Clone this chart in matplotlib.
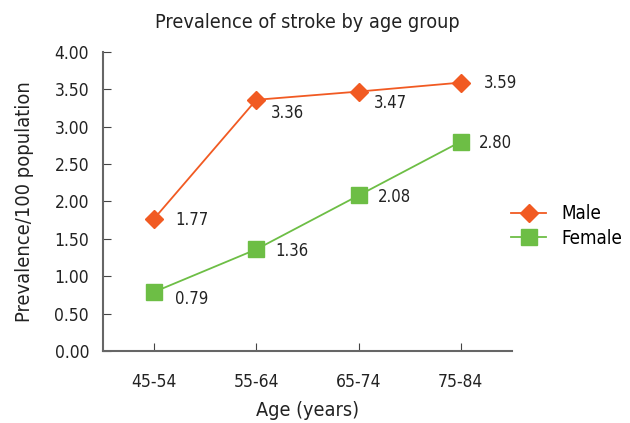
import matplotlib.pyplot as plt

age_groups = ["45-54", "55-64", "65-74", "75-84"]
male = [1.77, 3.36, 3.47, 3.59]
female = [0.79, 1.36, 2.08, 2.80]

# label offsets in pixels (dx right, dy down) as seen in the reference
male_offsets = [(21, 1), (14, 13), (15, 11), (23, 0)]
female_offsets = [(21, 7), (19, 2), (19, 2), (18, 1)]

plt.rcParams['font.family'] = ['DejaVu Sans']
plt.rcParams['font.stretch'] = 'condensed'

fig = plt.figure(figsize=(6.3, 4.23), dpi=100)
ax = fig.add_axes([0.1635, 0.1702, 0.649, 0.707])

x = range(len(age_groups))
ax.plot(x, male, color='#F15A22', lw=1.3, marker='D', ms=9.5, label='Male')
ax.plot(x, female, color='#6DBE45', lw=1.3, marker='s', ms=11.5, label='Female')

px = 0.72  # points per pixel at dpi 100
for vals, offs in [(male, male_offsets), (female, female_offsets)]:
    for i, v in enumerate(vals):
        dx, dy = offs[i]
        ax.annotate(f"{v:.2f}", (i, v), xytext=(dx * px, -dy * px), textcoords='offset points',
                    fontsize=12, va='center', ha='left', color='#222222')

ax.set_xlim(-0.5, 3.5)
ax.set_ylim(0, 4)
ax.set_xticks(list(x))
ax.set_xticklabels(age_groups)
ax.set_yticks([i * 0.5 for i in range(9)])
ax.set_yticklabels([f"{i * 0.5:.2f}" for i in range(9)])
ax.tick_params(direction='in', labelsize=12.5, length=6, color='#444444', labelcolor='#222222')
ax.tick_params(axis='x', pad=16)
ax.tick_params(axis='y', pad=10)

for s in ['top', 'right']:
    ax.spines[s].set_visible(False)
for s in ['left', 'bottom']:
    ax.spines[s].set_color('#666666')
    ax.spines[s].set_linewidth(1.5)

ax.set_xlabel("Age (years)", fontsize=14.2, color='#222222', labelpad=7)
ax.set_ylabel("Prevalence/100 population", fontsize=14.4, color='#222222', labelpad=15)
ax.set_title("Prevalence of stroke by age group", fontsize=14.2, color='#222222', pad=17)

ax.legend(loc='center left', bbox_to_anchor=(0.784, 0.466), bbox_transform=fig.transFigure,
          frameon=False, fontsize=13.5, handlelength=1.9, handletextpad=0.8, labelspacing=0.3)

fig.savefig("out.png", dpi=100)
